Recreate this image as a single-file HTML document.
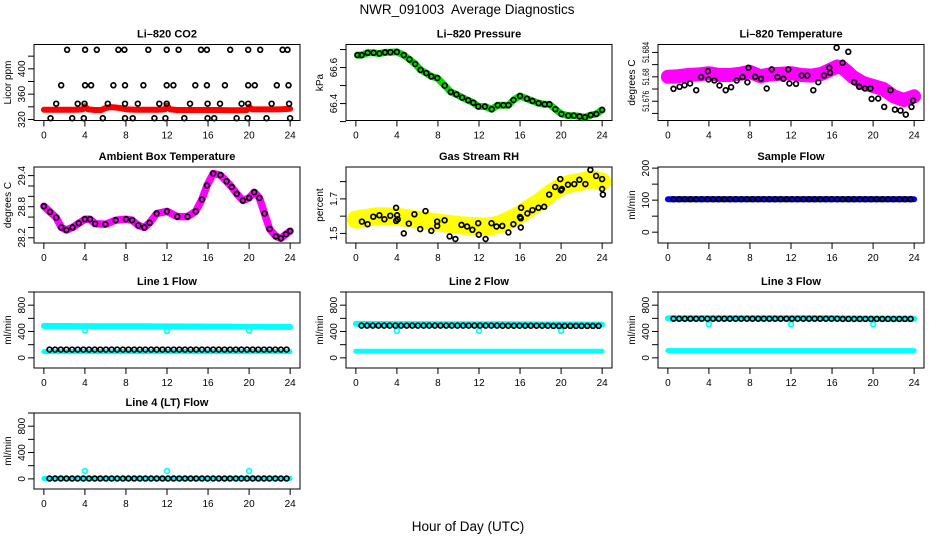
<!DOCTYPE html>
<html><head><meta charset="utf-8">
<style>
body{margin:0;background:#fff;}
svg{display:block;font-family:"Liberation Sans",Arial,sans-serif;}
</style></head>
<body>
<svg id="chart" width="936" height="540" viewBox="0 0 936 540" xmlns="http://www.w3.org/2000/svg">
<text x="467" y="14" text-anchor="middle" font-size="13.5" xml:space="preserve">NWR_091003  Average Diagnostics</text>
<text x="468" y="531" text-anchor="middle" font-size="13.5">Hour of Day (UTC)</text>
</svg>
<script>
// ---------- data ----------
const xTicks = [0,4,8,12,16,20,24];

const co2RedX = [0,1,2,3,3.8,4,4.3,5,5.6,6,6.5,7,7.5,8,9,10,11,11.8,12,12.3,13,14,15,16,17,18,19,19.8,20,20.3,21,22,23,24];
const co2RedY = [335.5,335.5,335.5,335.5,336,341,336,335,335,338,339.5,339,338,336,335.5,335.5,335.5,336,342,336,335,335,335,335,335,334.5,334.5,335,340,336,336,336,336,337];
const co2BlackX = [2.27,4.02,5.16,7.26,7.85,10.18,11.97,13.13,15.31,15.89,18.16,19.91,21.08,23.26,23.74,
 1.69,4.02,4.6,6.78,7.91,9.7,11.97,12.62,14.76,15.89,17.64,19.91,20.56,22.7,23.84,
 1.2,3.3,3.96,6.23,7.91,9.15,11.25,11.97,14.24,15.96,17.16,19.27,19.91,22.19,23.9,
 0.65,2.76,3.89,5.74,7.91,8.66,10.77,11.84,13.69,15.96,16.6,18.78,19.85,21.7,24];
const co2BlackY = [430,430,430,430,430,430,430,430,430,430,430,430,430,430,430,
 374,374,374,374,374,374,374,374,374,374,374,374,374,374,374,
 345,345,345,345,345,345,345,345,345,345,345,345,345,345,345,
 322,322,322,322,322,322,322,322,322,322,322,322,322,322,322];
const co2Ticks = [320,340,360,380,400,420];
const co2Labels = ["320","","360","","400",""];

const presX = [0.16,0.56,1.14,1.73,2.29,2.84,3.37,4.0,4.67,5.23,5.78,6.31,6.86,7.35,7.94,8.66,9.25,9.8,10.36,10.95,11.44,11.93,12.58,13.24,13.82,14.38,14.87,15.36,16.0,16.67,17.2,17.81,18.4,18.86,19.44,20.03,20.69,21.24,21.8,22.32,22.88,23.43,24.0];
const presY = [66.669,66.669,66.682,66.682,66.678,66.684,66.685,66.687,66.669,66.645,66.62,66.587,66.569,66.551,66.542,66.5,66.464,66.451,66.433,66.418,66.405,66.384,66.384,66.369,66.391,66.391,66.391,66.42,66.442,66.427,66.415,66.402,66.396,66.396,66.369,66.342,66.333,66.333,66.329,66.324,66.336,66.342,66.365];
const presTicks = [66.3,66.4,66.5,66.6,66.7];
const presLabels = ["","66.4","","66.6",""];

const tempBandX = [0,1,2,3,4,5,6,7,8,9,10,11,12,13,14,15,16,16.5,17,17.5,18,19,20,21,22,23,24];
const tempBandY = [51.6800,51.6801,51.6803,51.6804,51.6806,51.6803,51.6803,51.6805,51.6808,51.6801,51.6804,51.6805,51.6806,51.6803,51.6802,51.6805,51.6813,51.6817,51.6815,51.6808,51.6800,51.6790,51.6785,51.6780,51.6768,51.6762,51.6768];
const tempBlackX = [0.55,1.14,1.62,2.17,2.76,3.24,3.89,3.96,4.54,5.03,5.64,6.16,6.71,7.27,7.75,7.85,8.5,9.08,9.63,10.12,10.67,11.26,11.74,11.84,12.49,13.04,13.59,14.17,14.66,15.21,15.73,15.8,16.44,17.03,17.58,18.16,18.65,19.2,19.75,19.85,20.5,21.08,21.7,22.12,22.67,23.19,23.74,23.9];
const tempBlackY = [51.67803,51.67836,51.67863,51.67890,51.67781,51.67995,51.68093,51.67956,51.67940,51.67858,51.67781,51.67830,51.67940,51.67995,51.67912,51.68148,51.68000,51.67967,51.67808,51.68121,51.67995,51.67967,51.68121,51.67890,51.67885,51.68022,51.68022,51.67781,51.67912,51.68022,51.68148,51.68066,51.68477,51.68230,51.68411,51.67912,51.67836,51.67808,51.67808,51.67638,51.67644,51.67507,51.67781,51.67463,51.67447,51.67381,51.67507,51.67611];
const tempTicks = [51.674,51.676,51.678,51.680,51.682,51.684];
const tempLabels = ["","51.676","","51.68","","51.684"];

const ambX = [0,0.6,1.2,1.7,2.2,2.8,3.4,4,4.5,5,6,7,8,8.6,9.2,9.8,10.3,11,12,13,14,14.8,15.4,15.9,16.5,17.2,17.8,18.3,18.8,19.4,20,20.5,21,21.5,22,22.6,23.1,23.6,24];
const ambY = [28.81,28.70,28.59,28.40,28.35,28.40,28.48,28.56,28.56,28.47,28.46,28.54,28.56,28.54,28.44,28.40,28.49,28.67,28.71,28.61,28.61,28.71,28.94,29.21,29.44,29.41,29.29,29.18,29.05,28.92,28.97,29.08,28.97,28.67,28.37,28.23,28.19,28.27,28.33];
const ambTicks = [28.2,28.4,28.6,28.8,29.0,29.2,29.4];
const ambLabels = ["28.2","","","28.8","","","29.4"];

const rhBandX = [0,2,4,6,8,10,12,13,14,15,16,17,18,19,20,21,22,23,24];
const rhBandY = [1.58,1.60,1.597,1.58,1.563,1.548,1.54,1.54,1.553,1.58,1.61,1.65,1.687,1.734,1.772,1.79,1.80,1.814,1.80];
const rhBlackX = [0.59,1.14,1.70,2.29,2.78,3.36,3.92,3.92,4.02,4.08,4.67,5.16,5.71,6.27,6.79,7.35,7.93,7.93,8.65,9.14,9.70,10.29,10.84,11.36,11.92,11.98,12.64,13.22,13.71,14.27,14.86,15.35,16.0,16.07,16.1,16.07,16.72,17.21,17.80,18.35,18.84,19.43,19.92,19.98,20.08,20.67,21.29,21.78,22.37,22.86,23.41,24.0,24.0,24.07];
const rhBlackY = [1.5686,1.5533,1.5971,1.6048,1.5819,1.6029,1.6486,1.5724,1.6048,1.5819,1.5,1.5571,1.6105,1.5248,1.6295,1.5152,1.5686,1.5438,1.5762,1.4829,1.4676,1.5495,1.54,1.521,1.559,1.4924,1.4676,1.559,1.54,1.5438,1.5057,1.5533,1.5952,1.5876,1.6486,1.5343,1.6162,1.6352,1.6486,1.6543,1.7248,1.7686,1.8143,1.7495,1.7571,1.7819,1.7857,1.8105,1.7857,1.8676,1.8333,1.8143,1.7571,1.7248];
const rhTicks = [1.5,1.6,1.7,1.8];
const rhLabels = ["1.5","","1.7",""];

const flowHours = [0.55,1.1,1.65,2.2,2.75,3.3,3.85,4.4,4.95,5.5,6.05,6.6,7.15,7.7,8.25,8.8,9.35,9.9,10.45,11,11.55,12.1,12.65,13.2,13.75,14.3,14.85,15.4,15.95,16.5,17.05,17.6,18.15,18.7,19.25,19.8,20.35,20.9,21.45,22,22.55,23.1,23.65];
const hourly = [0,1,2,3,4,5,6,7,8,9,10,11,12,13,14,15,16,17,18,19,20,21,22,23,24];
const dipHours = [4,12,20];

const sampleBlue = [103,103,103,103,103,103,103,103,103,103,103,103,103,103,103,103,103,103,103,103,103,103,103,103,103];
const sampleBlack = [103,103,103,103,103,103,103,103,103,103,103,103,103,103,103,103,103,103,103,103,103,103,103,103,103,103,103,103,103,103,103,103,103,103,103,103,103,103,103,103,103,103,103];
const sampleTicks = [0,50,100,150,200];
const sampleLabels = ["0","","100","","200"];

const flowTicks = [0,200,400,600,800,1000];
const flowLabels = ["0","","400","","800",""];

const l1CyanUp = [485,484,483,482,482,481,481,480,480,479,479,478,478,477,476,476,475,474,474,473,472,471,470,470,469];
const l1CyanLow = [95,95,95,95,95,95,95,95,95,95,95,95,95,95,95,95,95,95,95,95,95,95,95,95,95];
const l1Dips = [415,410,415];
const l1Black = [125,125,125,125,125,125,125,125,125,125,125,125,125,125,125,125,125,125,125,125,125,125,125,125,125,125,125,125,125,125,125,125,125,125,125,125,125,125,125,125,125,125,125];

const l2CyanUp = [515,515,514,514,513,513,512,512,511,511,511,510,510,510,509,509,508,508,507,507,506,506,506,505,505];
const l2CyanLow = [100,100,100,100,100,100,100,100,100,100,100,100,100,100,100,100,100,100,100,100,100,100,100,100,100];
const l2Dips = [410,410,410];
const l2Black = [490,490,490,490,490,490,490,490,490,490,490,490,490,490,490,490,490,490,490,490,490,490,490,490,490,488,488,488,488,488,488,488,488,488,486,486,486,486,486,486,486,486,486];

const l3CyanUp = [600,600,600,600,600,600,600,600,600,600,600,600,600,600,600,600,600,598,598,596,596,595,595,595,595];
const l3CyanLow = [110,110,110,110,110,110,110,110,110,110,110,110,110,110,110,110,110,110,110,110,110,110,110,110,110];
const l3Dips = [510,510,510];
const l3Black = [595,595,595,595,595,595,595,595,595,595,595,595,595,595,595,595,595,595,595,595,595,595,595,595,595,595,595,595,595,595,592,592,592,592,592,592,592,592,592,592,592,592,592];

const l4CyanLow = [5,5,5,5,5,5,5,5,5,5,5,5,5,5,5,5,5,5,5,5,5,5,5,5,5];
const l4Dips = [120,120,120];
const l4Black = [5,5,5,5,5,5,5,5,5,5,5,5,5,5,5,5,5,5,5,5,5,5,5,5,5,5,5,5,5,5,5,5,5,5,5,5,5,5,5,5,5,5,5];

// ---------- drawing ----------
const svg = document.getElementById('chart');
const NS = 'http://www.w3.org/2000/svg';
function mk(tag, attrs, parent){
  const e = document.createElementNS(NS, tag);
  for (const k in attrs) e.setAttribute(k, attrs[k]);
  (parent||svg).appendChild(e);
  return e;
}
const colX = [34,346,658], rowY = [44.5,167,292,413], W = 266, H = 76;

function panel(c, r, title, ytitle, ymin, ymax, ticks, labels, key, lblW){
  const x0 = colX[c], y0 = rowY[r], x1 = x0+W, y1 = y0+H;
  const g = mk('g', {});
  
  
  const xs = h => x0 + (h+0.96)/25.92*W;
  const ys = v => y1 - (v-ymin)/(ymax-ymin)*H;
  const t = mk('text', {x:(x0+x1)/2, y:y0-7, 'text-anchor':'middle', 'font-size':'11', 'font-weight':'bold'}, g);
  t.textContent = title;
  
  
  const yt = mk('text', {x:x0-23, y:(y0+y1)/2, 'text-anchor':'middle', 'font-size':'10', transform:`rotate(-90 ${x0-23} ${(y0+y1)/2})`}, g);
  yt.textContent = ytitle;
  
  
  const box = mk('rect', {x:x0, y:y0, width:W, height:H, fill:'none', stroke:'#000', 'stroke-width':'1'}, g);
  
  
  const xa = mk('g', {}, g);
  
  
  mk('line', {x1:xs(0), x2:xs(24), y1:y1, y2:y1, stroke:'#000'}, xa);
  xTicks.forEach(h => {
    mk('line', {x1:xs(h), x2:xs(h), y1:y1, y2:y1+6, stroke:'#000'}, xa);
    const l = mk('text', {x:xs(h), y:y1+18, 'text-anchor':'middle', 'font-size':'10'}, xa);
    l.textContent = h;
    
    
  });
  const ya = mk('g', {}, g);
  
  
  ticks.forEach((v, i) => {
    const yy = ys(v);
    mk('line', {x1:x0-6, x2:x0, y1:yy, y2:yy, stroke:'#000'}, ya);
    if (labels[i]) {
      const a = {x:x0-9, y:yy, 'text-anchor':'middle', 'font-size':lblW?'9':'10', transform:`rotate(-90 ${x0-9} ${yy})`};
      if (lblW) { a.textLength = labels[i].length > 5 ? lblW : lblW*0.8; a.lengthAdjust = 'spacingAndGlyphs'; }
      const l = mk('text', a, ya);
      l.textContent = labels[i];
      
      
    }
  });
  const plot = mk('g', {}, g);
  
  
  return {xs, ys, g:plot};
}
function band(p, xsArr, ysArr, color, width, name){
  const d = xsArr.map((h,i) => (i?'L':'M') + p.xs(h).toFixed(1) + ' ' + p.ys(ysArr[i]).toFixed(1)).join(' ');
  const e = mk('path', {d, fill:'none', stroke:color, 'stroke-width':width, 'stroke-linecap':'round', 'stroke-linejoin':'round'}, p.g);
  
  
}
function points(p, xsArr, ysArr, color, name, r){
  const g = mk('g', {fill:'none', stroke:color, 'stroke-width':'1.7'}, p.g);
  
  
  xsArr.forEach((h,i) => {
    const c = mk('circle', {cx:p.xs(h).toFixed(1), cy:p.ys(ysArr[i]).toFixed(1), r:r||2.4}, g);
    
    
  });
}

// CO2
let p = panel(0,0,'Li\u2013820 CO2','Licor ppm',318.4,438.4,co2Ticks,co2Labels,'co2');
band(p, co2RedX, co2RedY, '#ff0000', 6, 'co2-red-series');
points(p, co2BlackX, co2BlackY, '#000', 'co2-black-points');

// Pressure
p = panel(1,0,'Li\u2013820 Pressure','kPa',66.306,66.728,presTicks,presLabels,'pressure');
band(p, presX, presY, '#00dd00', 7, 'pressure-green-series');
points(p, presX, presY, '#000', 'pressure-black-points');

// Temperature
p = panel(2,0,'Li\u2013820 Temperature','degrees C',51.67284,51.6853,tempTicks,tempLabels,'li820-temp',21);
band(p, tempBandX, tempBandY, '#ff00ff', 14, 'temp-magenta-series');
points(p, tempBlackX, tempBlackY, '#000', 'temp-black-points');

// Ambient
p = panel(0,1,'Ambient Box Temperature','degrees C',28.1,29.566,ambTicks,ambLabels,'ambient');
band(p, ambX, ambY, '#ff00ff', 7.5, 'ambient-magenta-series');
points(p, ambX, ambY, '#000', 'ambient-black-points');

// RH
p = panel(1,1,'Gas Stream RH','percent',1.4446,1.8846,rhTicks,rhLabels,'rh');
band(p, rhBandX, rhBandY, '#ffff00', 18, 'rh-yellow-series');
points(p, rhBlackX, rhBlackY, '#000', 'rh-black-points');

// Sample flow
p = panel(2,1,'Sample Flow','ml/min',-33.8,203.5,sampleTicks,sampleLabels,'sample-flow');
band(p, hourly, sampleBlue, '#0000ff', 6, 'sample-blue-series');
points(p, flowHours, sampleBlack, '#000', 'sample-black-points');

// Line flows
p = panel(0,2,'Line 1 Flow','ml/min',-154,1000,flowTicks,flowLabels,'line1');
band(p, hourly, l1CyanUp, '#00ffff', 6, 'line1-cyan-upper');
band(p, hourly, l1CyanLow, '#00ffff', 5, 'line1-cyan-lower');
points(p, dipHours, l1Dips, '#00ffff', 'line1-cyan-dips');
points(p, flowHours, l1Black, '#000', 'line1-black-points');

p = panel(1,2,'Line 2 Flow','ml/min',-154,1000,flowTicks,flowLabels,'line2');
band(p, hourly, l2CyanUp, '#00ffff', 6, 'line2-cyan-upper');
band(p, hourly, l2CyanLow, '#00ffff', 5, 'line2-cyan-lower');
points(p, dipHours, l2Dips, '#00ffff', 'line2-cyan-dips');
points(p, flowHours, l2Black, '#000', 'line2-black-points');

p = panel(2,2,'Line 3 Flow','ml/min',-154,1000,flowTicks,flowLabels,'line3');
band(p, hourly, l3CyanUp, '#00ffff', 6, 'line3-cyan-upper');
band(p, hourly, l3CyanLow, '#00ffff', 5, 'line3-cyan-lower');
points(p, dipHours, l3Dips, '#00ffff', 'line3-cyan-dips');
points(p, flowHours, l3Black, '#000', 'line3-black-points');

p = panel(0,3,'Line 4 (LT) Flow','ml/min',-154,1000,flowTicks,flowLabels,'line4');
band(p, hourly, l4CyanLow, '#00ffff', 5, 'line4-cyan-series');
points(p, dipHours, l4Dips, '#00ffff', 'line4-cyan-spikes');
points(p, flowHours, l4Black, '#000', 'line4-black-points');
</script>
</body></html>
